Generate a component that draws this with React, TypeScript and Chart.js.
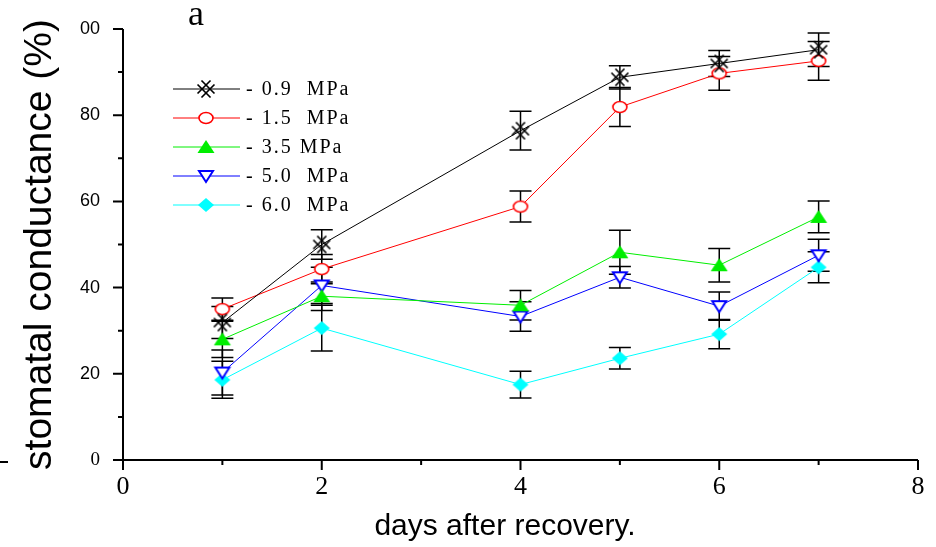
import React, { useEffect, useRef } from "react";
import { Chart, registerables } from "chart.js";

Chart.register(...registerables);

// ---- data ----
const days = [1, 2, 4, 5, 6, 7];
const seriesLabels = ["- 0.9  MPa", "- 1.5  MPa", "- 3.5 MPa", "- 5.0  MPa", "- 6.0  MPa"];
const mpa09 = [31.9, 50.0, 76.4, 88.8, 92.0, 95.2];
const mpa09Err = [3.7, 3.4, 4.5, 2.7, 3.0, 3.9];
const mpa15 = [35.0, 44.3, 58.8, 81.9, 89.7, 92.6];
const mpa15Err = [2.6, 3.4, 3.6, 4.5, 3.9, 4.5];
const mpa35 = [28.0, 38.0, 35.9, 48.2, 45.2, 56.4];
const mpa35Err = [4.2, 3.3, 3.4, 5.1, 3.9, 3.7];
const mpa50 = [20.3, 40.5, 33.3, 42.4, 35.7, 47.5];
const mpa50Err = [5.2, 4.2, 3.4, 2.5, 3.3, 3.7];
const mpa60 = [18.6, 30.6, 17.5, 23.6, 29.2, 44.7];
const mpa60Err = [4.3, 5.3, 3.1, 2.5, 3.4, 3.6];
const xTickLabels = ["0", "2", "4", "6", "8"];
const yTickLabels = ["0", "20", "40", "60", "80", "00"];
const xTitle = "days after recovery.";
const yTitle = "stomatal conductance (%)";
const panelLabel = "a";

const seriesValues = [mpa09, mpa15, mpa35, mpa50, mpa60];
const seriesErrors = [mpa09Err, mpa15Err, mpa35Err, mpa50Err, mpa60Err];
const seriesColors = ["#000000", "#ff0000", "#00ee00", "#0000ff", "#00ffff"];
const markerKinds = ["hatch", "circle", "triUp", "triDown", "diamond"];

function makeMarker(kind: string): HTMLCanvasElement {
  const c = document.createElement("canvas");
  c.width = 20;
  c.height = 20;
  const g = c.getContext("2d")!;
  g.translate(10, 10);
  if (kind === "hatch") {
    g.strokeStyle = "#000";
    g.lineWidth = 1.7;
    const s = Math.SQRT1_2;
    for (const d of [-2.8, 2.8]) {
      g.beginPath();
      g.moveTo(-6.5 + d * s, -6.5 - d * s);
      g.lineTo(6.5 + d * s, 6.5 - d * s);
      g.stroke();
      g.beginPath();
      g.moveTo(-6.5 + d * s, 6.5 + d * s);
      g.lineTo(6.5 + d * s, -6.5 + d * s);
      g.stroke();
    }
  } else if (kind === "circle") {
    g.beginPath();
    g.ellipse(0, 0, 7, 5.5, 0, 0, Math.PI * 2);
    g.fillStyle = "#fff";
    g.fill();
    g.strokeStyle = "#ff0000";
    g.lineWidth = 1.6;
    g.stroke();
  } else if (kind === "triUp") {
    g.beginPath();
    g.moveTo(0, -7);
    g.lineTo(8.5, 6);
    g.lineTo(-8.5, 6);
    g.closePath();
    g.fillStyle = "#00ee00";
    g.fill();
  } else if (kind === "triDown") {
    g.beginPath();
    g.moveTo(-7, -5);
    g.lineTo(7, -5);
    g.lineTo(0, 6);
    g.closePath();
    g.fillStyle = "#fff";
    g.fill();
    g.strokeStyle = "#0000ff";
    g.lineWidth = 2;
    g.stroke();
  } else {
    g.beginPath();
    g.moveTo(0, -7);
    g.lineTo(8, 0);
    g.lineTo(0, 7);
    g.lineTo(-8, 0);
    g.closePath();
    g.fillStyle = "#00ffff";
    g.fill();
  }
  return c;
}

const decorPlugin = {
  id: "decor",
  beforeDatasetsDraw(chart: any) {
    const { ctx } = chart;
    const xs = chart.scales.x;
    const ys = chart.scales.y;
    ctx.save();
    ctx.strokeStyle = "#000";
    ctx.lineWidth = 1.5;
    seriesValues.forEach((vals, si) => {
      vals.forEach((v, j) => {
        const px = xs.getPixelForValue(days[j]);
        const t = ys.getPixelForValue(v + seriesErrors[si][j]);
        const b = ys.getPixelForValue(v - seriesErrors[si][j]);
        ctx.beginPath();
        ctx.moveTo(px, t);
        ctx.lineTo(px, b);
        ctx.moveTo(px - 11, t);
        ctx.lineTo(px + 11, t);
        ctx.moveTo(px - 11, b);
        ctx.lineTo(px + 11, b);
        ctx.stroke();
      });
    });
    ctx.restore();
  },
  afterDraw(chart: any) {
    const { ctx } = chart;
    const xs = chart.scales.x;
    const ys = chart.scales.y;
    const x0 = xs.getPixelForValue(0);
    const x8 = xs.getPixelForValue(8);
    const y0 = ys.getPixelForValue(0);
    const y100 = ys.getPixelForValue(100);
    ctx.save();
    ctx.strokeStyle = "#000";
    ctx.lineWidth = 2;
    ctx.beginPath();
    // axes
    ctx.moveTo(x0, y100);
    ctx.lineTo(x0, y0);
    ctx.moveTo(x0 - 10, y0);
    ctx.lineTo(x8, y0);
    // y ticks
    for (let v = 0; v <= 100; v += 10) {
      const py = ys.getPixelForValue(v);
      ctx.moveTo(x0 - (v % 20 === 0 ? 10 : 5), py);
      ctx.lineTo(x0, py);
    }
    // x ticks
    for (let d = 0; d <= 8; d += 1) {
      const px = xs.getPixelForValue(d);
      ctx.moveTo(px, y0);
      ctx.lineTo(px, y0 + (d % 2 === 0 ? 10 : 5));
    }
    // small stray dash at left edge
    ctx.moveTo(0, y0 + 2);
    ctx.lineTo(8, y0 + 2);
    ctx.stroke();

    // legend
    const lx1 = 173;
    const lx2 = 240;
    const mx = 206;
    const tx = 246;
    const ly0 = 89;
    const dy = 29;
    chart.data.datasets.forEach((ds: any, i: number) => {
      const ly = ly0 + i * dy;
      ctx.strokeStyle = ds.borderColor;
      ctx.lineWidth = 1;
      ctx.beginPath();
      ctx.moveTo(lx1, ly);
      ctx.lineTo(lx2, ly);
      ctx.stroke();
      const img = ds.pointStyle as HTMLCanvasElement;
      ctx.drawImage(img, mx - img.width / 2, ly - img.height / 2);
      ctx.fillStyle = "#000";
      ctx.font = "20px 'Liberation Serif'";
      ctx.textAlign = "left";
      ctx.textBaseline = "middle";
      try {
        (ctx as any).letterSpacing = "2px";
      } catch (e) {}
      ctx.fillText(ds.label, tx, ly + 1);
      try {
        (ctx as any).letterSpacing = "0px";
      } catch (e) {}
    });

    // x axis title
    ctx.fillStyle = "#000";
    ctx.font = "30px 'Liberation Sans'";
    ctx.textAlign = "center";
    ctx.textBaseline = "middle";
    ctx.fillText(xTitle, 505, 527);

    // panel label
    ctx.font = "36px 'Liberation Serif'";
    ctx.fillText(panelLabel, 196, 16);
    ctx.restore();
  },
};

export default function App() {
  const ref = useRef<HTMLCanvasElement | null>(null);
  useEffect(() => {
    if (!ref.current) return;
    const datasets = seriesValues.map((vals, i) => ({
      label: seriesLabels[i],
      data: days.map((d, j) => ({ x: d, y: vals[j] })),
      borderColor: seriesColors[i],
      backgroundColor: seriesColors[i],
      borderWidth: 1,
      pointStyle: makeMarker(markerKinds[i]) as any,
      pointRadius: 8,
      fill: false,
      tension: 0,
    }));
    const chart = new Chart(ref.current, {
      type: "line",
      data: { datasets },
      plugins: [decorPlugin],
      options: {
        responsive: false,
        animation: false,
        layout: { padding: { top: 29, right: 18, left: 0, bottom: 0 } },
        plugins: { legend: { display: false }, tooltip: { enabled: false } },
        scales: {
          x: {
            type: "linear",
            min: 0,
            max: 8,
            afterFit: (s: any) => {
              s.height = 87;
              s.paddingLeft = 0;
              s.paddingRight = 0;
              s.paddingTop = 0;
              s.paddingBottom = 0;
            },
            grid: { display: false, drawTicks: false },
            border: { display: false },
            ticks: {
              stepSize: 2,
              padding: 12,
              color: "#000",
              font: { family: "'Liberation Serif'", size: 26 },
              callback: (v: any) => xTickLabels[Math.round(Number(v) / 2)],
            },
            title: { display: false, text: xTitle },
          },
          y: {
            type: "linear",
            min: 0,
            max: 100,
            afterFit: (s: any) => {
              s.width = 123;
              s.paddingLeft = 0;
              s.paddingRight = 0;
              s.paddingTop = 0;
              s.paddingBottom = 0;
            },
            grid: { display: false, drawTicks: false },
            border: { display: false },
            ticks: {
              stepSize: 20,
              padding: 23,
              color: "#000",
              font: (c: any) =>
                c.tick && c.tick.value === 0
                  ? { family: "'Liberation Serif'", size: 19 }
                  : { family: "'Liberation Sans'", size: 18 },
              callback: (v: any) => yTickLabels[Math.round(Number(v) / 20)],
            },
            title: {
              display: true,
              text: yTitle,
              color: "#000",
              font: { family: "'Liberation Sans'", size: 39 },
              padding: { top: 17, bottom: 0 },
            },
          },
        },
      },
    });
    return () => chart.destroy();
  }, []);
  return (
    <div style={{ position: "fixed", left: 0, top: 0, width: 936, height: 547, background: "#fff" }}>
      <canvas ref={ref} width={936} height={547} />
    </div>
  );
}
